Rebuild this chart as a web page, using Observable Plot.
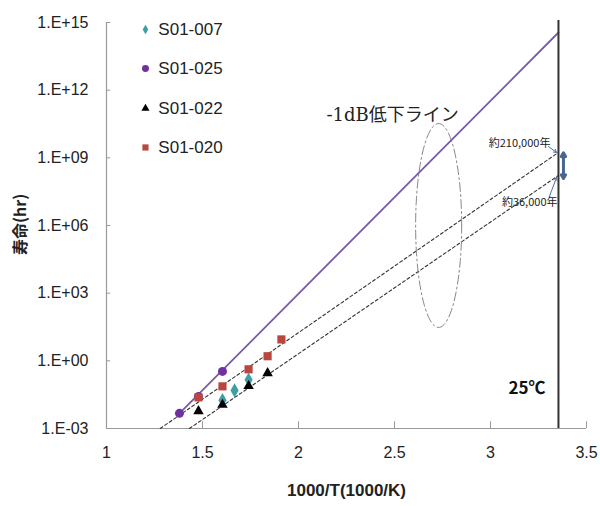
<!DOCTYPE html>
<html><head><meta charset="utf-8">
<script src="https://cdn.jsdelivr.net/npm/d3@7"></script>
<script src="https://cdn.jsdelivr.net/npm/@observablehq/plot@0.6"></script>
<style>body{margin:0;background:#fff}</style>
</head><body><div id="chart"></div>
<script>
// ---- data ----
const xTicks = [1, 1.5, 2, 2.5, 3, 3.5];
const yTickExps = [-3, 0, 3, 6, 9, 12, 15];
const seriesNames = ["S01-007", "S01-025", "S01-022", "S01-020"];

const s007X = [1.604, 1.667, 1.74];
const s007Y = [0.018, 0.049, 0.145];
const s025X = [1.38, 1.479, 1.604];
const s025Y = [0.0047, 0.026, 0.34];
const s022X = [1.479, 1.604, 1.74, 1.839];
const s022Y = [0.0059, 0.0112, 0.076, 0.285];
const s020X = [1.479, 1.604, 1.74, 1.839, 1.911];
const s020Y = [0.024, 0.074, 0.42, 1.6, 8.9];

const purpleLineX = [1.38, 3.354];
const purpleLineY = [0.0047, 3.6e14];
const upperDashX = [1.28, 3.354];
const upperDashY = [0.001, 1.74e9];
const lowerDashX = [1.432, 3.354];
const lowerDashY = [0.001, 1.66e8];

const roomTempX = 3.354;
const annoTitle = "-1dB低下ライン";
const anno210 = "約210,000年";
const anno36 = "約36,000年";
const tempLabel = "25℃";
const xTitle = "1000/T(1000/K)";
const yTitle = "寿命(hr)";

// ---- build ----
const pts = (xs, ys) => xs.map((x, i) => ({x, y: ys[i]}));
const colors = {teal: "#3d9ea3", purple: "#7030a0", line: "#7b5aa6", red: "#b8473f", black: "#000"};
const legendX = 1.203, legendTextX = 1.27;
const legendLog = [14.69, 12.96, 11.19, 9.46];
const legendSym = [
  {symbol: "diamond", fill: colors.teal, r: 2.8},
  {symbol: "circle", fill: colors.purple, r: 4},
  {symbol: "triangle", fill: colors.black, r: 3},
  {symbol: "square", fill: colors.red, r: 4}
];
const legendRows = seriesNames.map((name, i) => ({name, x: legendX, y: 10 ** legendLog[i], ...legendSym[i]}));

const ellipse = d3.range(0, 361, 4).map(a => ({
  x: 2.73 + 0.12 * Math.cos(a * Math.PI / 180),
  y: 10 ** (6.0 + 4.52 * Math.sin(a * Math.PI / 180))
}));

const expFmt = d => { const e = Math.round(Math.log10(d)); return "1.E" + (e < 0 ? "-" : "+") + String(Math.abs(e)).padStart(2, "0"); };
const axisGray = "#9a9a9a";
const jp = "'Noto Sans CJK JP', sans-serif";

const chart = Plot.plot({
  width: 600, height: 506,
  marginLeft: 106, marginRight: 14, marginTop: 22, marginBottom: 78,
  style: {fontFamily: "'Liberation Sans', Arial, sans-serif", fontSize: "16px", color: "#222", background: "#fff"},
  x: {domain: [1, 3.5], ticks: xTicks, tickFormat: d => String(d), tickSize: 0, tickPadding: 18, label: null},
  y: {type: "log", domain: [1e-3, 1e15], ticks: yTickExps.map(e => 10 ** e), tickFormat: expFmt, tickSize: 0, tickPadding: 18, label: null},
  marks: [
    Plot.ruleY([1e-3], {stroke: axisGray, strokeWidth: 1.2}),
    Plot.ruleX([1], {stroke: axisGray, strokeWidth: 1.2}),
    Plot.ruleX(xTicks, {y1: 1e-3, y2: 10 ** -2.7, stroke: axisGray}),
    Plot.ruleY(yTickExps.map(e => 10 ** e), {x1: 1, x2: 1.022, stroke: axisGray}),
    Plot.line(pts(upperDashX, upperDashY), {x: "x", y: "y", stroke: "#333", strokeWidth: 1.1, strokeDasharray: "3,2.5"}),
    Plot.line(pts(lowerDashX, lowerDashY), {x: "x", y: "y", stroke: "#333", strokeWidth: 1.1, strokeDasharray: "3,2.5"}),
    Plot.line(ellipse, {x: "x", y: "y", stroke: "#888", strokeWidth: 1, strokeDasharray: "9,3,2,3"}),
    Plot.line(pts(purpleLineX, purpleLineY), {x: "x", y: "y", stroke: colors.line, strokeWidth: 1.8}),
    Plot.ruleX([roomTempX], {y1: 1e-3, y2: 10 ** 15.09, stroke: "#333", strokeWidth: 2}),
    Plot.dot(pts(s007X, s007Y), {x: "x", y: "y", symbol: "diamond", fill: colors.teal, r: 4.3}),
    Plot.dot(pts(s025X, s025Y), {x: "x", y: "y", symbol: "circle", fill: colors.purple, r: 4.5}),
    Plot.dot(pts(s022X, s022Y), {x: "x", y: "y", symbol: "triangle", fill: colors.black, r: 3.9}),
    Plot.dot(pts(s020X, s020Y), {x: "x", y: "y", symbol: "square", fill: colors.red, r: 4.6}),
    // legend
    Plot.dot(legendRows, {x: "x", y: "y", symbol: "symbol", fill: "fill", r: "r"}),
    Plot.text(legendRows, {x: legendTextX, y: "y", text: "name", textAnchor: "start", fontSize: 17, fill: "#222"}),
    // annotations
    Plot.text([annoTitle], {x: 2.49, y: 10 ** 10.88, text: d => d, fontSize: 18, fontFamily: "'DejaVu Serif', 'Noto Sans CJK JP', serif", fill: "#222"}),
    Plot.text([tempLabel], {x: 3.19, y: 10 ** -1.22, text: d => d, fontSize: 17, fontWeight: "bold", fill: "#111", fontFamily: jp}),
    Plot.text([anno210], {x: 3.312, y: 10 ** 9.64, text: d => d, fontSize: 11, textAnchor: "end", fill: "#222", fontFamily: jp}),
    Plot.text([anno36], {x: 3.349, y: 10 ** 7.02, text: d => d, fontSize: 11, textAnchor: "end", fill: "#222", fontFamily: jp}),
    Plot.arrow([0], {x1: 3.302, y1: 10 ** 9.5, x2: 3.344, y2: 10 ** 9.24, stroke: "#5a6f9a", strokeWidth: 1, headLength: 5}),
    Plot.arrow([0], {x1: 3.307, y1: 10 ** 7.29, x2: 3.344, y2: 10 ** 8.13, stroke: "#5a6f9a", strokeWidth: 1, headLength: 5}),
    Plot.arrow([0], {x1: 3.38, y1: 10 ** 8.65, x2: 3.38, y2: 10 ** 9.22, stroke: "#4a6593", strokeWidth: 3, headLength: 7}),
    Plot.arrow([0], {x1: 3.38, y1: 10 ** 8.65, x2: 3.38, y2: 10 ** 8.08, stroke: "#4a6593", strokeWidth: 3, headLength: 7}),
    // titles
    Plot.text([xTitle], {x: 2.25, y: 10 ** -5.74, text: d => d, fontSize: 17, fontWeight: "bold", fill: "#222"}),
    Plot.text([yTitle], {x: 0.552, y: 10 ** 6.05, text: d => d, rotate: -90, fontSize: 16, fontWeight: "bold", fill: "#222", fontFamily: jp})
  ]
});
document.getElementById("chart").appendChild(chart);
</script>
</body></html>
